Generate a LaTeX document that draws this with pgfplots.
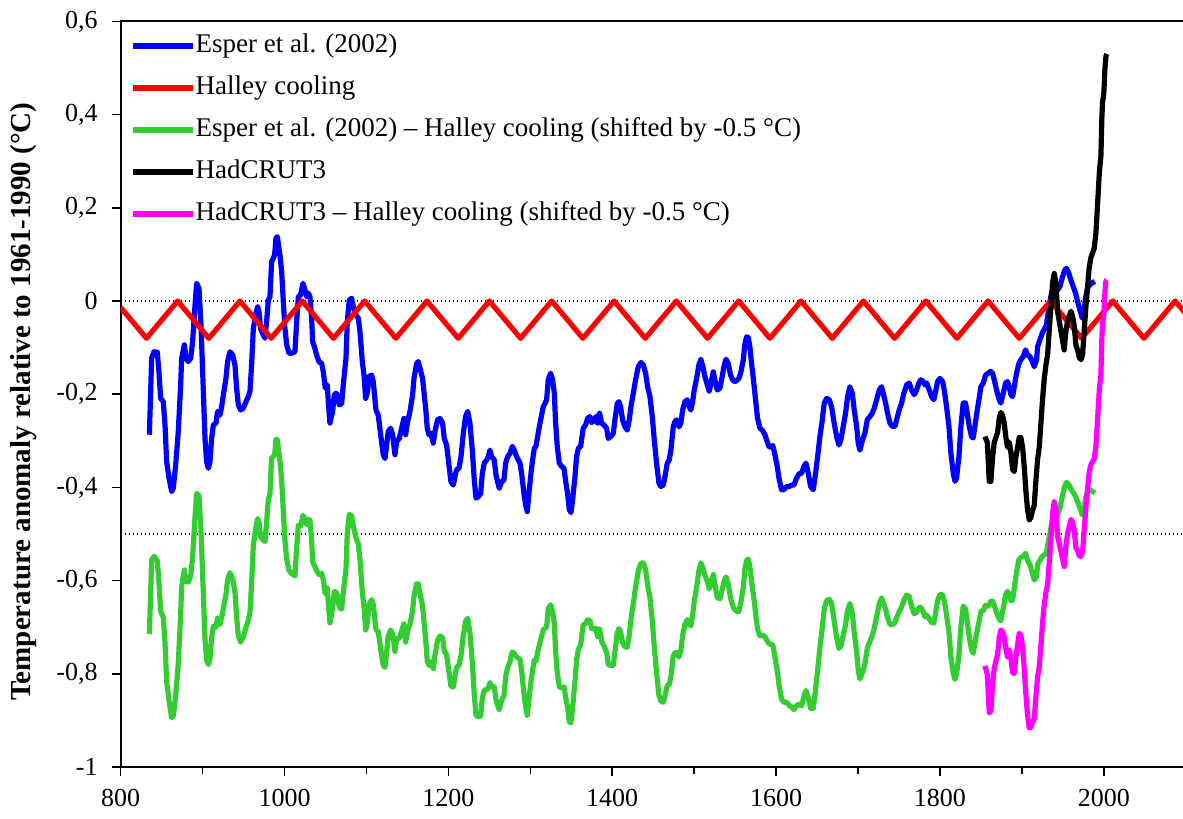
\documentclass[border=0pt]{standalone}
\usepackage{fontspec}
\setmainfont{Liberation Serif}
\usepackage{pgfplots}
\usepackage{pgfplotstable}
\pgfplotsset{compat=1.18}

\definecolor{esperblue}{RGB}{0,0,255}
\definecolor{halleyred}{RGB}{255,0,0}
\definecolor{diffgreen}{RGB}{51,204,51}
\definecolor{hadmagenta}{RGB}{255,0,255}

% Esper et al. (2002) reconstruction
\pgfplotstableread{
year anom
835.0 -0.287
837.8 -0.123
840.6 -0.109
844.7 -0.110
846.7 -0.152
848.8 -0.209
852.0 -0.216
854.1 -0.266
856.1 -0.345
859.0 -0.380
862.2 -0.409
864.2 -0.402
867.1 -0.352
870.3 -0.280
873.2 -0.180
874.4 -0.123
877.7 -0.094
879.7 -0.123
882.5 -0.130
885.4 -0.123
887.8 -0.087
890.7 -0.009
892.7 0.038
895.6 0.027
898.0 -0.051
900.9 -0.194
902.9 -0.295
904.9 -0.345
907.0 -0.359
909.0 -0.345
911.0 -0.295
913.1 -0.266
916.3 -0.262
918.3 -0.237
921.2 -0.245
923.2 -0.227
925.3 -0.202
928.5 -0.166
930.5 -0.130
933.4 -0.109
936.7 -0.116
939.5 -0.137
941.5 -0.187
943.6 -0.223
946.4 -0.234
949.7 -0.230
952.9 -0.216
955.8 -0.205
957.8 -0.194
959.8 -0.137
961.9 -0.059
965.1 -0.026
967.2 -0.012
968.8 -0.023
970.8 -0.059
974.1 -0.073
976.1 -0.080
978.1 -0.044
980.2 0.002
982.2 0.009
984.2 0.084
986.3 0.092
987.9 0.099
989.5 0.135
991.2 0.138
993.2 0.113
994.4 0.099
996.5 0.063
998.5 -0.001
1000.5 -0.059
1002.6 -0.094
1005.4 -0.112
1008.7 -0.112
1012.7 -0.109
1014.8 -0.044
1016.8 0.009
1019.6 0.013
1022.5 0.038
1024.9 0.024
1027.0 0.009
1029.0 0.017
1031.0 0.009
1033.1 -0.037
1034.3 -0.087
1037.1 -0.102
1039.2 -0.116
1042.0 -0.130
1045.3 -0.134
1047.3 -0.152
1049.7 -0.187
1052.2 -0.180
1053.4 -0.216
1055.4 -0.262
1058.7 -0.237
1060.7 -0.202
1062.8 -0.198
1064.8 -0.202
1066.8 -0.223
1069.7 -0.220
1071.7 -0.180
1075.0 -0.123
1076.6 -0.044
1079.0 0.002
1081.9 0.006
1083.9 -0.012
1087.2 -0.030
1090.0 -0.037
1092.1 -0.066
1094.9 -0.130
1097.0 -0.159
1099.0 -0.209
1101.4 -0.195
1103.0 -0.162
1106.3 -0.159
1108.3 -0.173
1111.6 -0.234
1114.4 -0.245
1117.3 -0.287
1120.5 -0.330
1122.6 -0.338
1124.6 -0.309
1126.6 -0.280
1129.5 -0.273
1131.9 -0.287
1134.8 -0.330
1136.8 -0.302
1140.0 -0.295
1142.9 -0.273
1145.7 -0.252
1147.8 -0.287
1150.2 -0.259
1153.1 -0.237
1156.3 -0.202
1158.0 -0.166
1161.2 -0.134
1163.2 -0.130
1165.3 -0.144
1168.5 -0.166
1170.6 -0.202
1172.6 -0.237
1174.2 -0.273
1176.3 -0.287
1178.7 -0.284
1181.6 -0.305
1183.6 -0.280
1186.8 -0.255
1189.7 -0.252
1192.9 -0.262
1195.0 -0.295
1197.8 -0.309
1200.7 -0.352
1203.1 -0.388
1206.0 -0.395
1208.8 -0.370
1210.1 -0.362
1212.9 -0.359
1215.4 -0.334
1218.2 -0.284
1221.0 -0.248
1223.5 -0.237
1226.3 -0.262
1229.2 -0.320
1231.6 -0.384
1233.7 -0.423
1236.5 -0.420
1239.4 -0.413
1241.4 -0.370
1243.8 -0.348
1246.7 -0.341
1248.7 -0.334
1250.7 -0.320
1252.8 -0.334
1256.0 -0.341
1258.1 -0.373
1260.1 -0.388
1262.1 -0.402
1265.0 -0.388
1267.8 -0.384
1269.9 -0.348
1272.3 -0.334
1275.1 -0.327
1278.0 -0.312
1280.4 -0.320
1283.3 -0.334
1287.4 -0.348
1289.4 -0.370
1292.2 -0.413
1294.3 -0.438
1296.3 -0.452
1298.3 -0.413
1300.8 -0.370
1302.8 -0.341
1304.9 -0.316
1306.9 -0.312
1308.9 -0.291
1311.8 -0.262
1313.8 -0.245
1315.8 -0.227
1317.9 -0.220
1319.9 -0.212
1321.9 -0.169
1324.8 -0.155
1327.2 -0.169
1329.3 -0.198
1330.9 -0.262
1332.9 -0.312
1335.4 -0.348
1338.2 -0.355
1341.1 -0.359
1343.5 -0.391
1345.5 -0.413
1347.6 -0.448
1349.6 -0.454
1351.6 -0.427
1354.5 -0.377
1356.5 -0.334
1358.6 -0.316
1361.4 -0.312
1364.6 -0.273
1367.5 -0.266
1369.9 -0.252
1372.8 -0.248
1374.8 -0.261
1378.1 -0.255
1380.1 -0.248
1382.1 -0.262
1384.6 -0.241
1387.0 -0.262
1389.9 -0.266
1393.1 -0.273
1395.2 -0.295
1398.0 -0.291
1401.3 -0.284
1403.3 -0.255
1406.1 -0.220
1408.2 -0.216
1410.2 -0.227
1412.6 -0.255
1415.5 -0.270
1418.3 -0.277
1420.8 -0.255
1422.8 -0.227
1425.7 -0.198
1428.5 -0.169
1431.8 -0.141
1435.0 -0.132
1437.9 -0.137
1440.7 -0.155
1443.2 -0.184
1446.0 -0.205
1448.9 -0.248
1451.3 -0.298
1454.1 -0.348
1457.0 -0.391
1459.4 -0.398
1462.3 -0.395
1464.3 -0.377
1467.2 -0.348
1469.6 -0.341
1471.6 -0.320
1474.5 -0.270
1476.5 -0.259
1478.6 -0.255
1481.4 -0.270
1483.8 -0.262
1485.9 -0.234
1488.7 -0.216
1491.6 -0.212
1494.0 -0.227
1496.0 -0.234
1498.1 -0.216
1500.1 -0.191
1503.0 -0.166
1505.8 -0.137
1508.2 -0.125
1510.7 -0.141
1513.1 -0.162
1516.0 -0.180
1518.4 -0.194
1520.4 -0.177
1523.3 -0.152
1525.3 -0.169
1528.2 -0.191
1531.4 -0.187
1533.5 -0.169
1536.3 -0.141
1538.8 -0.125
1541.6 -0.134
1544.5 -0.159
1546.9 -0.169
1548.9 -0.173
1551.8 -0.171
1554.6 -0.166
1557.1 -0.152
1559.9 -0.127
1562.0 -0.091
1564.0 -0.077
1566.0 -0.078
1568.0 -0.098
1570.1 -0.134
1572.9 -0.177
1575.4 -0.220
1577.4 -0.252
1580.3 -0.273
1583.1 -0.277
1586.4 -0.287
1588.4 -0.298
1591.2 -0.312
1593.7 -0.314
1596.0 -0.310
1598.6 -0.330
1601.4 -0.355
1603.9 -0.384
1606.7 -0.405
1609.6 -0.405
1612.8 -0.398
1616.1 -0.398
1619.0 -0.395
1621.8 -0.395
1625.0 -0.380
1628.3 -0.370
1631.1 -0.370
1634.0 -0.355
1636.4 -0.348
1639.3 -0.370
1642.1 -0.398
1645.4 -0.405
1648.2 -0.370
1650.7 -0.334
1653.5 -0.291
1656.4 -0.255
1658.8 -0.219
1661.7 -0.209
1664.9 -0.212
1667.8 -0.227
1670.6 -0.259
1673.9 -0.291
1676.7 -0.309
1679.1 -0.298
1682.0 -0.269
1684.8 -0.241
1687.3 -0.205
1690.1 -0.184
1693.0 -0.198
1695.4 -0.234
1698.3 -0.269
1700.3 -0.305
1702.3 -0.320
1705.6 -0.298
1708.4 -0.284
1711.3 -0.255
1714.5 -0.248
1717.4 -0.241
1719.8 -0.230
1722.7 -0.212
1725.9 -0.191
1728.8 -0.184
1730.8 -0.198
1733.7 -0.219
1736.1 -0.241
1739.0 -0.262
1741.8 -0.269
1745.1 -0.269
1747.1 -0.255
1750.3 -0.234
1753.2 -0.219
1756.0 -0.198
1759.3 -0.180
1762.5 -0.176
1765.4 -0.191
1768.6 -0.201
1771.5 -0.191
1774.3 -0.176
1776.8 -0.169
1779.6 -0.173
1781.7 -0.180
1783.7 -0.176
1787.0 -0.191
1789.8 -0.205
1792.6 -0.212
1795.1 -0.191
1797.1 -0.173
1800.0 -0.166
1803.2 -0.173
1805.3 -0.191
1808.1 -0.227
1811.0 -0.269
1813.4 -0.327
1816.3 -0.370
1818.3 -0.387
1820.3 -0.380
1823.2 -0.334
1825.6 -0.269
1828.4 -0.219
1831.3 -0.219
1833.3 -0.241
1835.8 -0.269
1838.6 -0.291
1840.6 -0.294
1842.7 -0.269
1844.7 -0.244
1847.6 -0.212
1850.0 -0.184
1852.9 -0.176
1855.7 -0.159
1859.0 -0.155
1861.8 -0.151
1864.2 -0.155
1866.3 -0.169
1869.1 -0.191
1872.4 -0.212
1874.4 -0.219
1877.3 -0.198
1880.1 -0.176
1882.5 -0.173
1884.6 -0.184
1886.6 -0.201
1888.7 -0.205
1891.5 -0.176
1893.5 -0.155
1896.4 -0.134
1898.8 -0.126
1901.7 -0.119
1904.5 -0.105
1907.0 -0.116
1909.8 -0.119
1912.7 -0.130
1915.1 -0.141
1918.0 -0.126
1919.2 -0.098
1922.0 -0.084
1924.9 -0.069
1927.3 -0.061
1930.1 -0.051
1932.2 -0.023
1934.2 -0.001
1936.2 0.017
1938.3 0.024
1941.1 0.020
1943.6 0.024
1946.4 0.031
1949.7 0.052
1952.5 0.067
1954.6 0.070
1957.4 0.059
1959.8 0.045
1962.7 0.031
1965.5 0.017
1968.0 -0.001
1970.8 -0.019
1973.7 -0.037
1975.7 -0.026
1977.7 0.006
1980.2 0.028
1983.0 0.035
1985.9 0.039
1989.1 0.042
}\esper

% Halley cooling: triangular wave, period about 76 years
\pgfplotstableread{
year anom
800.0 -0.014
831.45 -0.08
869.5 0
907.55 -0.08
945.6 0
983.65 -0.08
1021.7 0
1059.75 -0.08
1097.8 0
1135.85 -0.08
1173.9 0
1211.95 -0.08
1250.0 0
1288.05 -0.08
1326.1 0
1364.15 -0.08
1402.2 0
1440.25 -0.08
1478.3 0
1516.35 -0.08
1554.4 0
1592.45 -0.08
1630.5 0
1668.55 -0.08
1706.6 0
1744.65 -0.08
1782.7 0
1820.75 -0.08
1858.8 0
1896.85 -0.08
1934.9 0
1972.95 -0.08
2011.0 0
2049.05 -0.08
2087.1 0
2100.0 -0.027
}\halley

% Esper et al. (2002) minus Halley cooling, shifted by -0.5
\pgfplotstableread{
year anom
835.0 -0.715
837.8 -0.556
840.6 -0.548
844.7 -0.558
846.7 -0.604
848.8 -0.666
852.0 -0.679
854.1 -0.734
856.1 -0.817
859.0 -0.858
862.2 -0.894
864.2 -0.891
867.1 -0.847
870.3 -0.778
873.2 -0.672
874.4 -0.613
877.7 -0.577
879.7 -0.602
882.5 -0.603
885.4 -0.590
887.8 -0.549
890.7 -0.464
892.7 -0.413
895.6 -0.418
898.0 -0.491
900.9 -0.628
902.9 -0.725
904.9 -0.771
907.0 -0.780
909.0 -0.768
911.0 -0.722
913.1 -0.698
916.3 -0.700
918.3 -0.680
921.2 -0.694
923.2 -0.680
925.3 -0.659
928.5 -0.630
930.5 -0.598
933.4 -0.583
936.7 -0.597
939.5 -0.624
941.5 -0.678
943.6 -0.719
946.4 -0.732
949.7 -0.721
952.9 -0.701
955.8 -0.684
957.8 -0.668
959.8 -0.607
961.9 -0.525
965.1 -0.485
967.2 -0.467
968.8 -0.474
970.8 -0.506
974.1 -0.513
976.1 -0.516
978.1 -0.476
980.2 -0.425
982.2 -0.414
984.2 -0.337
986.3 -0.334
987.9 -0.330
989.5 -0.297
991.2 -0.298
993.2 -0.327
994.4 -0.344
996.5 -0.384
998.5 -0.452
1000.5 -0.514
1002.6 -0.554
1005.4 -0.578
1008.7 -0.585
1012.7 -0.590
1014.8 -0.529
1016.8 -0.481
1019.6 -0.483
1022.5 -0.460
1024.9 -0.469
1027.0 -0.480
1029.0 -0.468
1031.0 -0.471
1033.1 -0.513
1034.3 -0.560
1037.1 -0.570
1039.2 -0.579
1042.0 -0.587
1045.3 -0.584
1047.3 -0.598
1049.7 -0.628
1052.2 -0.616
1053.4 -0.649
1055.4 -0.691
1058.7 -0.659
1060.7 -0.624
1062.8 -0.624
1064.8 -0.633
1066.8 -0.658
1069.7 -0.661
1071.7 -0.625
1075.0 -0.575
1076.6 -0.499
1079.0 -0.458
1081.9 -0.461
1083.9 -0.483
1087.2 -0.508
1090.0 -0.521
1092.1 -0.554
1094.9 -0.624
1097.0 -0.657
1099.0 -0.706
1101.4 -0.687
1103.0 -0.651
1106.3 -0.641
1108.3 -0.651
1111.6 -0.705
1114.4 -0.710
1117.3 -0.746
1120.5 -0.782
1122.6 -0.786
1124.6 -0.753
1126.6 -0.719
1129.5 -0.706
1131.9 -0.715
1134.8 -0.752
1136.8 -0.724
1140.0 -0.724
1142.9 -0.708
1145.7 -0.693
1147.8 -0.732
1150.2 -0.709
1153.1 -0.693
1156.3 -0.665
1158.0 -0.633
1161.2 -0.607
1163.2 -0.607
1165.3 -0.626
1168.5 -0.655
1170.6 -0.695
1172.6 -0.734
1174.2 -0.772
1176.3 -0.782
1178.7 -0.774
1181.6 -0.789
1183.6 -0.760
1186.8 -0.728
1189.7 -0.719
1192.9 -0.722
1195.0 -0.751
1197.8 -0.759
1200.7 -0.796
1203.1 -0.827
1206.0 -0.828
1208.8 -0.797
1210.1 -0.786
1212.9 -0.781
1215.4 -0.761
1218.2 -0.717
1221.0 -0.687
1223.5 -0.681
1226.3 -0.712
1229.2 -0.776
1231.6 -0.845
1233.7 -0.889
1236.5 -0.892
1239.4 -0.891
1241.4 -0.852
1243.8 -0.835
1246.7 -0.834
1248.7 -0.831
1250.7 -0.819
1252.8 -0.828
1256.0 -0.828
1258.1 -0.856
1260.1 -0.867
1262.1 -0.877
1265.0 -0.857
1267.8 -0.847
1269.9 -0.806
1272.3 -0.787
1275.1 -0.774
1278.0 -0.753
1280.4 -0.756
1283.3 -0.764
1287.4 -0.769
1289.4 -0.793
1292.2 -0.842
1294.3 -0.871
1296.3 -0.889
1298.3 -0.855
1300.8 -0.817
1302.8 -0.792
1304.9 -0.771
1306.9 -0.772
1308.9 -0.755
1311.8 -0.732
1313.8 -0.719
1315.8 -0.705
1317.9 -0.703
1319.9 -0.699
1321.9 -0.660
1324.8 -0.652
1327.2 -0.667
1329.3 -0.691
1330.9 -0.752
1332.9 -0.798
1335.4 -0.828
1338.2 -0.830
1341.1 -0.828
1343.5 -0.854
1345.5 -0.872
1347.6 -0.903
1349.6 -0.905
1351.6 -0.873
1354.5 -0.817
1356.5 -0.770
1358.6 -0.748
1361.4 -0.738
1364.6 -0.694
1367.5 -0.693
1369.9 -0.684
1372.8 -0.686
1374.8 -0.703
1378.1 -0.704
1380.1 -0.702
1382.1 -0.720
1384.6 -0.704
1387.0 -0.730
1389.9 -0.740
1393.1 -0.754
1395.2 -0.780
1398.0 -0.782
1401.3 -0.782
1403.3 -0.753
1406.1 -0.712
1408.2 -0.703
1410.2 -0.710
1412.6 -0.733
1415.5 -0.742
1418.3 -0.743
1420.8 -0.716
1422.8 -0.684
1425.7 -0.649
1428.5 -0.614
1431.8 -0.579
1435.0 -0.563
1437.9 -0.562
1440.7 -0.576
1443.2 -0.610
1446.0 -0.637
1448.9 -0.686
1451.3 -0.741
1454.1 -0.797
1457.0 -0.846
1459.4 -0.858
1462.3 -0.861
1464.3 -0.848
1467.2 -0.825
1469.6 -0.823
1471.6 -0.806
1474.5 -0.762
1476.5 -0.755
1478.6 -0.754
1481.4 -0.764
1483.8 -0.750
1485.9 -0.718
1488.7 -0.694
1491.6 -0.684
1494.0 -0.694
1496.0 -0.697
1498.1 -0.674
1500.1 -0.645
1503.0 -0.614
1505.8 -0.579
1508.2 -0.562
1510.7 -0.573
1513.1 -0.589
1516.0 -0.601
1518.4 -0.618
1520.4 -0.606
1523.3 -0.587
1525.3 -0.608
1528.2 -0.636
1531.4 -0.639
1533.5 -0.625
1536.3 -0.603
1538.8 -0.592
1541.6 -0.607
1544.5 -0.638
1546.9 -0.653
1548.9 -0.661
1551.8 -0.666
1554.6 -0.666
1557.1 -0.646
1559.9 -0.615
1562.0 -0.575
1564.0 -0.557
1566.0 -0.554
1568.0 -0.569
1570.1 -0.601
1572.9 -0.638
1575.4 -0.676
1577.4 -0.704
1580.3 -0.719
1583.1 -0.717
1586.4 -0.720
1588.4 -0.727
1591.2 -0.735
1593.7 -0.737
1596.0 -0.738
1598.6 -0.763
1601.4 -0.794
1603.9 -0.828
1606.7 -0.855
1609.6 -0.861
1612.8 -0.861
1616.1 -0.868
1619.0 -0.871
1621.8 -0.877
1625.0 -0.868
1628.3 -0.865
1631.1 -0.869
1634.0 -0.848
1636.4 -0.836
1639.3 -0.852
1642.1 -0.874
1645.4 -0.874
1648.2 -0.833
1650.7 -0.792
1653.5 -0.743
1656.4 -0.701
1658.8 -0.660
1661.7 -0.643
1664.9 -0.640
1667.8 -0.649
1670.6 -0.683
1673.9 -0.722
1676.7 -0.746
1679.1 -0.740
1682.0 -0.717
1684.8 -0.695
1687.3 -0.664
1690.1 -0.649
1693.0 -0.669
1695.4 -0.711
1698.3 -0.752
1700.3 -0.792
1702.3 -0.811
1705.6 -0.796
1708.4 -0.780
1711.3 -0.745
1714.5 -0.731
1717.4 -0.718
1719.8 -0.702
1722.7 -0.678
1725.9 -0.650
1728.8 -0.637
1730.8 -0.647
1733.7 -0.662
1736.1 -0.679
1739.0 -0.694
1741.8 -0.695
1745.1 -0.690
1747.1 -0.680
1750.3 -0.666
1753.2 -0.657
1756.0 -0.642
1759.3 -0.631
1762.5 -0.634
1765.4 -0.655
1768.6 -0.671
1771.5 -0.668
1774.3 -0.658
1776.8 -0.657
1779.6 -0.667
1781.7 -0.678
1783.7 -0.674
1787.0 -0.682
1789.8 -0.690
1792.6 -0.691
1795.1 -0.665
1797.1 -0.643
1800.0 -0.630
1803.2 -0.630
1805.3 -0.644
1808.1 -0.674
1811.0 -0.710
1813.4 -0.763
1816.3 -0.799
1818.3 -0.812
1820.3 -0.801
1823.2 -0.759
1825.6 -0.699
1828.4 -0.655
1831.3 -0.661
1833.3 -0.687
1835.8 -0.721
1838.6 -0.749
1840.6 -0.756
1842.7 -0.735
1844.7 -0.714
1847.6 -0.689
1850.0 -0.666
1852.9 -0.664
1855.7 -0.653
1859.0 -0.655
1861.8 -0.645
1864.2 -0.644
1866.3 -0.653
1869.1 -0.669
1872.4 -0.683
1874.4 -0.686
1877.3 -0.659
1880.1 -0.631
1882.5 -0.623
1884.6 -0.630
1886.6 -0.643
1888.7 -0.642
1891.5 -0.607
1893.5 -0.582
1896.4 -0.555
1898.8 -0.550
1901.7 -0.549
1904.5 -0.541
1907.0 -0.557
1909.8 -0.566
1912.7 -0.583
1915.1 -0.599
1918.0 -0.591
1919.2 -0.565
1922.0 -0.557
1924.9 -0.548
1927.3 -0.545
1930.1 -0.541
1932.2 -0.517
1934.2 -0.500
1936.2 -0.480
1938.3 -0.469
1941.1 -0.467
1943.6 -0.458
1946.4 -0.445
1949.7 -0.417
1952.5 -0.396
1954.6 -0.389
1957.4 -0.394
1959.8 -0.403
1962.7 -0.411
1965.5 -0.419
1968.0 -0.431
1970.8 -0.444
1973.7 -0.459
1975.7 -0.452
1977.7 -0.424
1980.2 -0.407
1983.0 -0.406
1985.9 -0.408
1989.1 -0.412
}\esperdiff

% HadCRUT3 instrumental record
\pgfplotstableread{
year anom
1854.9 -0.291
1857.8 -0.303
1860.2 -0.387
1862.2 -0.387
1864.3 -0.335
1866.3 -0.303
1868.3 -0.293
1870.4 -0.282
1872.4 -0.251
1874.4 -0.239
1876.5 -0.246
1878.5 -0.262
1880.5 -0.293
1882.6 -0.314
1884.6 -0.303
1886.6 -0.324
1888.7 -0.361
1890.7 -0.366
1892.7 -0.335
1894.8 -0.314
1896.8 -0.293
1898.8 -0.293
1900.9 -0.314
1902.9 -0.355
1904.9 -0.407
1907.0 -0.449
1909.0 -0.470
1911.0 -0.465
1913.1 -0.449
1915.1 -0.439
1917.1 -0.387
1919.2 -0.340
1921.2 -0.314
1923.3 -0.262
1925.3 -0.210
1927.3 -0.168
1929.4 -0.137
1931.4 -0.116
1933.4 -0.064
1935.5 -0.012
1937.5 0.040
1939.5 0.059
1941.6 0.040
1943.6 -0.022
1945.6 -0.043
1947.7 -0.064
1949.7 -0.085
1951.7 -0.105
1953.8 -0.064
1955.8 -0.043
1957.8 -0.032
1959.9 -0.022
1961.9 -0.032
1963.9 -0.053
1966.0 -0.095
1968.0 -0.105
1970.0 -0.121
1972.1 -0.126
1974.1 -0.116
1976.1 -0.064
1978.2 -0.012
1980.2 0.030
1982.2 0.072
1984.3 0.093
1986.3 0.103
1988.3 0.113
1990.4 0.145
1992.4 0.207
1994.4 0.270
1995.3 0.290
1996.5 0.311
1997.7 0.395
1998.5 0.426
2000.1 0.447
2001.4 0.499
2002.6 0.525
2003.8 0.530
}\hadcrut

% HadCRUT3 minus Halley cooling, shifted by -0.5
\pgfplotstableread{
year anom
1854.9 -0.783
1857.8 -0.801
1860.2 -0.884
1862.2 -0.880
1864.3 -0.823
1866.3 -0.787
1868.3 -0.773
1870.4 -0.758
1872.4 -0.722
1874.4 -0.706
1876.5 -0.709
1878.5 -0.721
1880.5 -0.747
1882.6 -0.764
1884.6 -0.749
1886.6 -0.766
1888.7 -0.798
1890.7 -0.799
1892.7 -0.764
1894.8 -0.738
1896.8 -0.713
1898.8 -0.717
1900.9 -0.743
1902.9 -0.788
1904.9 -0.844
1907.0 -0.890
1909.0 -0.916
1911.0 -0.915
1913.1 -0.903
1915.1 -0.897
1917.1 -0.850
1919.2 -0.807
1921.2 -0.785
1923.3 -0.738
1925.3 -0.690
1927.3 -0.652
1929.4 -0.625
1931.4 -0.609
1933.4 -0.561
1935.5 -0.511
1937.5 -0.455
1939.5 -0.431
1941.6 -0.446
1943.6 -0.504
1945.6 -0.521
1947.7 -0.537
1949.7 -0.554
1951.7 -0.570
1953.8 -0.524
1955.8 -0.499
1957.8 -0.484
1959.9 -0.469
1961.9 -0.475
1963.9 -0.492
1966.0 -0.530
1968.0 -0.535
1970.0 -0.547
1972.1 -0.548
1974.1 -0.538
1976.1 -0.491
1978.2 -0.443
1980.2 -0.405
1982.2 -0.367
1984.3 -0.351
1986.3 -0.345
1988.3 -0.339
1990.4 -0.312
1992.4 -0.254
1994.4 -0.195
1995.3 -0.177
1996.5 -0.159
1997.7 -0.077
1998.5 -0.048
2000.1 -0.030
2001.4 0.019
2002.6 0.043
2003.8 0.045
}\hadcrutdiff

\begin{document}
\begin{tikzpicture}
\begin{axis}[
  scale only axis,
  width=532.5pt, height=372.8pt,
  xmin=800, xmax=2100,
  ymin=-1, ymax=0.6,
  xtick={800,1000,...,2000},
  minor xtick={900,1100,...,2100},
  ytick={-1,-0.8,-0.6,-0.4,-0.2,0,0.2,0.4,0.6},
  xtick pos=left, ytick pos=left,
  tick align=outside,
  major tick length=4.5pt,
  minor tick length=3.5pt,
  tick style={black, line width=0.8pt},
  axis line style={black, line width=1pt},
  /pgf/number format/assume math mode=true,
  tick label style={font=\fontsize{13}{15}\selectfont},
  xticklabel style={/pgf/number format/1000 sep={}, yshift=-5.5pt,
    inner ysep=1pt},
  yticklabel style={/pgf/number format/.cd, use comma, fixed, precision=1,
    /tikz/.cd, xshift=-3.5pt},
  scaled y ticks=false,
  ylabel={Temperature anomaly relative to 1961-1990 (°C)},
  ylabel style={font=\fontsize{14.5}{17}\selectfont\bfseries,
    at={(axis description cs:-0.0908,0.49)}, anchor=center},
  legend style={at={(axis description cs:0.0087,0.9857)}, anchor=north west,
    draw=none, fill=none, font=\fontsize{13.5}{16}\selectfont,
    row sep=7.5pt, inner sep=0pt,
    nodes={inner sep=0pt, text height=10pt, text depth=3.5pt}},
  legend cell align=left,
  legend image code/.code={\draw[#1] (0pt,0pt) -- (30pt,0pt);},
  every axis plot/.append style={line width=2.6pt, line join=round},
]
\coordinate (bl) at (rel axis cs:0,0);
% reference lines at 0 and -0.5
\addplot[forget plot, black, line width=0.7pt, dash pattern=on 0.7pt off 1.3pt]
  coordinates {(800,0) (2100,0)};
\addplot[forget plot, black, line width=0.7pt, dash pattern=on 0.7pt off 1.3pt]
  coordinates {(800,-0.5) (2100,-0.5)};

\addplot[esperblue] table[x=year, y=anom] {\esper};
\addlegendentry{Esper et al. (2002)}
\addplot[halleyred] table[x=year, y=anom] {\halley};
\addlegendentry{Halley cooling}
\addplot[diffgreen] table[x=year, y=anom] {\esperdiff};
\addlegendentry{Esper et al. (2002) – Halley cooling (shifted by -0.5 °C)}
\addplot[black] table[x=year, y=anom] {\hadcrut};
\addlegendentry{HadCRUT3}
\addplot[hadmagenta] table[x=year, y=anom] {\hadcrutdiff};
\addlegendentry{HadCRUT3 – Halley cooling (shifted by -0.5 °C)}
\end{axis}
\pgfresetboundingbox
\path ([shift={(-60.35pt,-26pt)}]bl) rectangle ++(591.5pt,409.5pt);
\end{tikzpicture}
\end{document}
